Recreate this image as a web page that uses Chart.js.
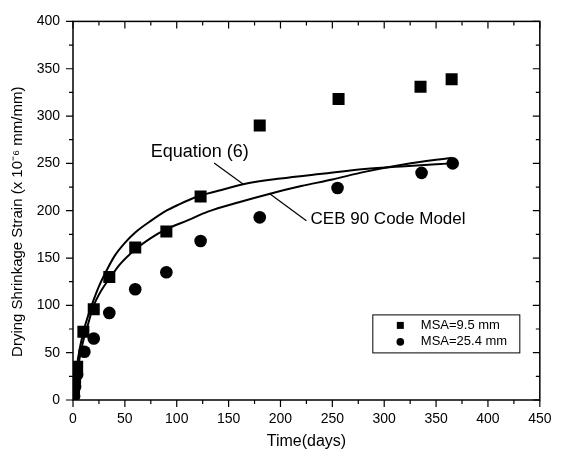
<!DOCTYPE html>
<html><head><meta charset="utf-8">
<script src="https://cdn.jsdelivr.net/npm/chart.js@4/dist/chart.umd.min.js"></script>
<style>html,body{margin:0;padding:0;background:#fff}#wrap{width:562px;height:458px;position:relative}canvas{display:block}</style>
</head><body><div id="wrap"><canvas id="c" width="562" height="458"></canvas></div>
<script>
// ---- data ----
const msa95Days   = [1, 2, 4, 10, 20, 35, 60, 90, 123, 180, 256, 335, 365];
const msa95Strain = [8, 20, 35, 72, 96, 130, 161, 178, 215, 290, 318, 331, 339];
const msa254Days   = [1, 2, 4, 11, 20, 35, 60, 90, 123, 180, 255, 336, 366];
const msa254Strain = [4, 14, 27, 51, 65, 92, 117, 135, 168, 193, 224, 240, 250];
const eq6Days   = [0, 2, 5, 10, 14, 18, 25, 32, 40, 50, 60, 76, 90, 101, 120, 140, 164, 200, 240, 281, 320, 365];
const eq6Strain = [0, 20, 45, 72, 87, 100, 120, 136, 152, 166, 177, 190, 200, 206, 215, 221, 228, 234, 239, 244, 247, 250];
const cebDays   = [0, 2, 5, 10, 14, 19, 28, 35, 45, 60, 75, 89, 111, 130, 160, 190, 220, 250, 281, 320, 365];
const cebStrain = [0, 16, 36, 63, 78, 97, 117, 128, 143, 159, 171, 180, 190, 199, 209, 218, 226, 233, 241, 249, 256];
const xTickValues = [0, 50, 100, 150, 200, 250, 300, 350, 400, 450];
const yTickValues = [0, 50, 100, 150, 200, 250, 300, 350, 400];
const seriesNames = ['MSA=9.5 mm', 'MSA=25.4 mm', 'Equation (6)', 'CEB 90 Code Model'];
const xTitle = 'Time(days)';
const yTitle = 'Drying Shrinkage Strain (x 10\u207B\u2076 mm/mm)';
// annotation labels: text, anchor (data coords), leader line from/to (data coords)
const noteTexts = ['Equation (6)', 'CEB 90 Code Model'];
const noteSizes = [18, 17];
const noteAnchorX = [75, 229];
const noteAnchorY = [257, 186];
const leaderFromX = [136, 189];
const leaderFromY = [250.5, 218.5];
const leaderToX = [164.5, 225];
const leaderToY = [227.6, 189.4];

const FONT = "'Liberation Sans', Arial, Helvetica, sans-serif";
const toXY = (xs, ys) => xs.map((x, i) => ({x: x, y: ys[i]}));

const framePlugin = {
  id: 'frame',
  afterDraw(chart) {
    const ctx = chart.ctx, a = chart.chartArea;
    const xs = chart.scales.x, ys = chart.scales.y;
    ctx.save();
    ctx.strokeStyle = '#000';
    ctx.lineWidth = 1.5;
    ctx.strokeRect(a.left, a.top, a.right - a.left, a.bottom - a.top);
    ctx.lineWidth = 1.2;
    ctx.beginPath();
    for (let v = xs.min; v <= xs.max; v += 25) {
      const p = xs.getPixelForValue(v);
      const L = (v % 50 === 0) ? 7 : 4;
      ctx.moveTo(p, a.bottom); ctx.lineTo(p, a.bottom + L);
      ctx.moveTo(p, a.top); ctx.lineTo(p, a.top + L);
    }
    for (let v = ys.min; v <= ys.max; v += 25) {
      const p = ys.getPixelForValue(v);
      const L = (v % 50 === 0) ? 7 : 4;
      ctx.moveTo(a.left, p); ctx.lineTo(a.left - L, p);
      ctx.moveTo(a.right, p); ctx.lineTo(a.right - L, p);
    }
    ctx.stroke();
    // y axis title
    ctx.fillStyle = '#000';
    ctx.font = '15px ' + FONT;
    ctx.textAlign = 'center';
    ctx.textBaseline = 'middle';
    ctx.translate(18, (a.top + a.bottom) / 2 + 11);
    ctx.rotate(-Math.PI / 2);
    ctx.fillText(yTitle, 0, 0);
    ctx.restore();

    // annotations
    ctx.save();
    ctx.fillStyle = '#000';
    ctx.strokeStyle = '#000';
    ctx.lineWidth = 1.2;
    ctx.textAlign = 'left';
    ctx.textBaseline = 'alphabetic';
    noteTexts.forEach((t, i) => {
      ctx.font = noteSizes[i] + 'px ' + FONT;
      ctx.fillText(t, xs.getPixelForValue(noteAnchorX[i]), ys.getPixelForValue(noteAnchorY[i]));
      ctx.beginPath();
      ctx.moveTo(xs.getPixelForValue(leaderFromX[i]), ys.getPixelForValue(leaderFromY[i]));
      ctx.lineTo(xs.getPixelForValue(leaderToX[i]), ys.getPixelForValue(leaderToY[i]));
      ctx.stroke();
    });
    ctx.restore();

    // legend box
    ctx.save();
    const bx = a.right - 167, by = a.top + 293.5, bw = 147, bh = 38;
    ctx.fillStyle = '#fff';
    ctx.fillRect(bx, by, bw, bh);
    ctx.strokeStyle = '#000';
    ctx.lineWidth = 1;
    ctx.strokeRect(bx, by, bw, bh);
    ctx.fillStyle = '#000';
    ctx.font = '13px ' + FONT;
    ctx.textBaseline = 'middle';
    ctx.textAlign = 'left';
    const r1 = by + 10.5, r2 = by + 27;
    ctx.fillRect(bx + 24, r1 - 3.5, 7, 7);
    ctx.beginPath(); ctx.arc(bx + 27.5, r2, 3.8, 0, Math.PI * 2); ctx.fill();
    ctx.fillText(chart.data.datasets[0].label, bx + 48, r1);
    ctx.fillText(chart.data.datasets[1].label, bx + 48, r2);
    ctx.restore();
  }
};

new Chart(document.getElementById('c'), {
  type: 'scatter',
  data: {
    datasets: [
      {label: seriesNames[0], data: toXY(msa95Days, msa95Strain), pointStyle: 'rect', pointRadius: 8.5,
       backgroundColor: '#000', borderColor: '#000', borderWidth: 0, order: 2},
      {label: seriesNames[1], data: toXY(msa254Days, msa254Strain), pointStyle: 'circle', pointRadius: 6.3,
       backgroundColor: '#000', borderColor: '#000', borderWidth: 0, order: 2},
      {label: seriesNames[2], data: toXY(eq6Days, eq6Strain), showLine: true, pointRadius: 0,
       borderColor: '#000', borderWidth: 2, tension: 0.4, cubicInterpolationMode: 'monotone', order: 1},
      {label: seriesNames[3], data: toXY(cebDays, cebStrain), showLine: true, pointRadius: 0,
       borderColor: '#000', borderWidth: 2, tension: 0.4, cubicInterpolationMode: 'monotone', order: 1}
    ]
  },
  options: {
    responsive: false,
    animation: false,
    devicePixelRatio: 1,
    layout: {autoPadding: false, padding: {left: 0, right: 13, top: 16, bottom: 0}},
    plugins: {legend: {display: false}, tooltip: {enabled: false}},
    scales: {
      x: {
        type: 'linear', min: 0, max: 450,
        afterBuildTicks: s => { s.ticks = xTickValues.map(v => ({value: v})); },
        afterFit: s => { s.height = 58; },
        grid: {display: false, drawTicks: false},
        border: {display: false},
        ticks: {color: '#000', font: {family: FONT, size: 14}, padding: 10.5, maxRotation: 0, autoSkip: false},
        title: {display: true, text: xTitle, color: '#000', font: {family: FONT, size: 16}, padding: {top: 0, bottom: 7}}
      },
      y: {
        type: 'linear', min: 0, max: 400,
        afterBuildTicks: s => { s.ticks = yTickValues.map(v => ({value: v})); },
        afterFit: s => { s.width = 73; },
        grid: {display: false, drawTicks: false},
        border: {display: false},
        ticks: {color: '#000', font: {family: FONT, size: 14}, padding: 13, autoSkip: false},
        title: {display: false}
      }
    }
  },
  plugins: [framePlugin]
});
</script>
</body></html>
